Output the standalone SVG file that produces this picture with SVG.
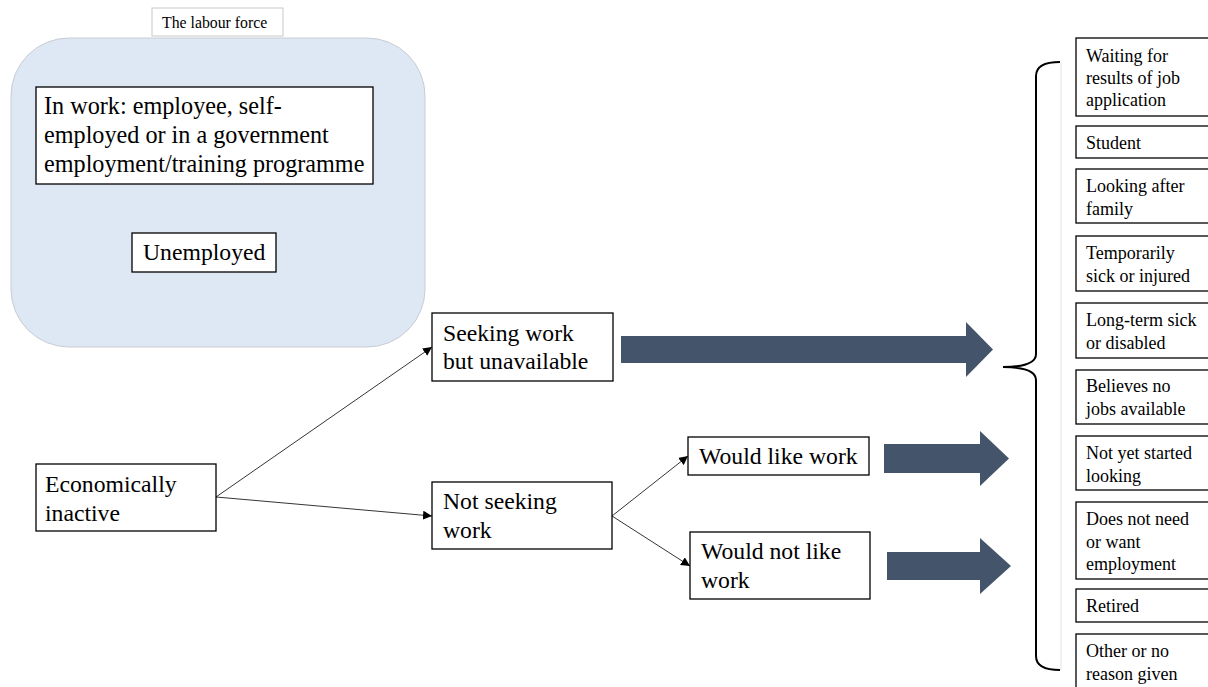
<svg xmlns="http://www.w3.org/2000/svg" width="1208" height="687" viewBox="0 0 1208 687">
<style>
.box{fill:#fff;stroke:#000;stroke-width:1.3}
.t{font-family:'Liberation Serif',Tinos,'Times New Roman',Times,'DejaVu Serif',serif;font-size:23.7px;fill:#000}
.s{font-family:'Liberation Serif',Tinos,'Times New Roman',Times,'DejaVu Serif',serif;font-size:18px;fill:#000}
.con{stroke:#000;stroke-width:0.8;fill:none;marker-end:url(#ah)}
.big{fill:#44546a}
</style>
<defs>
<marker id="ah" viewBox="0 0 10 10" refX="10" refY="5" markerWidth="9" markerHeight="9" markerUnits="userSpaceOnUse" orient="auto">
<path d="M0,0 L10,5 L0,10 z" fill="#000"/>
</marker>
</defs>
<rect width="1208" height="687" fill="#fff"/>
<g id="labour-force">
<rect x="11" y="38" width="414" height="309" rx="58" ry="58" fill="#dde8f4" stroke="#c8ccd2" stroke-width="1"/>
</g>
<g id="labour-force-label">
<rect x="152" y="8" width="131" height="28" fill="#fff" stroke="#c8c8c8" stroke-width="1"/>
<text class="t" x="162" y="28" style="font-size:15.8px">The labour force</text>
</g>
<g id="in-work">
<rect class="box" x="36" y="87" width="337" height="97"/>
<text class="t" x="44" y="114" style="font-size:24.2px">In work: employee, self-</text>
<text class="t" x="44" y="143" style="font-size:24.2px">employed or in a government</text>
<text class="t" x="44" y="172" style="font-size:24.2px">employment/training programme</text>
</g>
<g id="unemployed">
<rect class="box" x="132" y="233" width="144" height="39"/>
<text class="t" x="143" y="260">Unemployed</text>
</g>
<g id="econ-inactive">
<rect class="box" x="36" y="464" width="180" height="67"/>
<text class="t" x="45" y="492">Economically</text>
<text class="t" x="45" y="521">inactive</text>
</g>
<g id="seeking">
<rect class="box" x="432" y="313" width="181" height="68"/>
<text class="t" x="443" y="341">Seeking work</text>
<text class="t" x="443" y="369">but unavailable</text>
</g>
<g id="not-seeking">
<rect class="box" x="432" y="482" width="180" height="67"/>
<text class="t" x="443" y="509">Not seeking</text>
<text class="t" x="443" y="538">work</text>
</g>
<g id="would-like">
<rect class="box" x="688" y="437" width="181" height="38"/>
<text class="t" x="699" y="464">Would like work</text>
</g>
<g id="would-not-like">
<rect class="box" x="690" y="532" width="180" height="67"/>
<text class="t" x="701" y="559">Would not like</text>
<text class="t" x="701" y="588">work</text>
</g>
<g id="connectors">
<line class="con" x1="216" y1="497" x2="432" y2="347"/>
<line class="con" x1="216" y1="497" x2="432" y2="516"/>
<line class="con" x1="612" y1="516" x2="688" y2="456"/>
<line class="con" x1="612" y1="516" x2="690" y2="566"/>
<polygon class="big" points="621,336 966,336 966,322 993,349.5 966,377 966,363 621,363"/>
<polygon class="big" points="884,444 980,444 980,431 1009,458.5 980,486 980,473 884,473"/>
<polygon class="big" points="887,552 980,552 980,538 1011,566 980,594 980,580 887,580"/>
<line x1="1061" y1="62" x2="1061" y2="670" stroke="#e2e2e2" stroke-width="1"/>
<path d="M1060,62 Q1036,62 1036,76 L1036,354 Q1036,367 1003,367 Q1036,367 1036,380 L1036,656 Q1036,670 1060,670" fill="none" stroke="#000" stroke-width="2"/>
</g>
<g id="r-waiting">
<rect class="box" x="1076" y="38" width="150" height="78"/>
<text class="s" x="1086" y="62">Waiting for</text>
<text class="s" x="1086" y="84">results of job</text>
<text class="s" x="1086" y="106">application</text>
</g>
<g id="r-student">
<rect class="box" x="1076" y="126" width="150" height="32"/>
<text class="s" x="1086" y="149">Student</text>
</g>
<g id="r-family">
<rect class="box" x="1076" y="169" width="150" height="54"/>
<text class="s" x="1086" y="192">Looking after</text>
<text class="s" x="1086" y="215">family</text>
</g>
<g id="r-temp">
<rect class="box" x="1076" y="236" width="150" height="55"/>
<text class="s" x="1086" y="259">Temporarily</text>
<text class="s" x="1086" y="282">sick or injured</text>
</g>
<g id="r-longterm">
<rect class="box" x="1076" y="303" width="150" height="55"/>
<text class="s" x="1086" y="326">Long-term sick</text>
<text class="s" x="1086" y="349">or disabled</text>
</g>
<g id="r-believes">
<rect class="box" x="1076" y="370" width="150" height="54"/>
<text class="s" x="1086" y="392">Believes no</text>
<text class="s" x="1086" y="415">jobs available</text>
</g>
<g id="r-notyet">
<rect class="box" x="1076" y="436" width="150" height="54"/>
<text class="s" x="1086" y="459">Not yet started</text>
<text class="s" x="1086" y="482">looking</text>
</g>
<g id="r-doesnot">
<rect class="box" x="1076" y="502" width="150" height="77"/>
<text class="s" x="1086" y="525">Does not need</text>
<text class="s" x="1086" y="548">or want</text>
<text class="s" x="1086" y="570">employment</text>
</g>
<g id="r-retired">
<rect class="box" x="1076" y="589" width="150" height="33"/>
<text class="s" x="1086" y="612">Retired</text>
</g>
<g id="r-other">
<rect class="box" x="1076" y="634" width="150" height="70"/>
<text class="s" x="1086" y="657">Other or no</text>
<text class="s" x="1086" y="680">reason given</text>
</g>
</svg>
